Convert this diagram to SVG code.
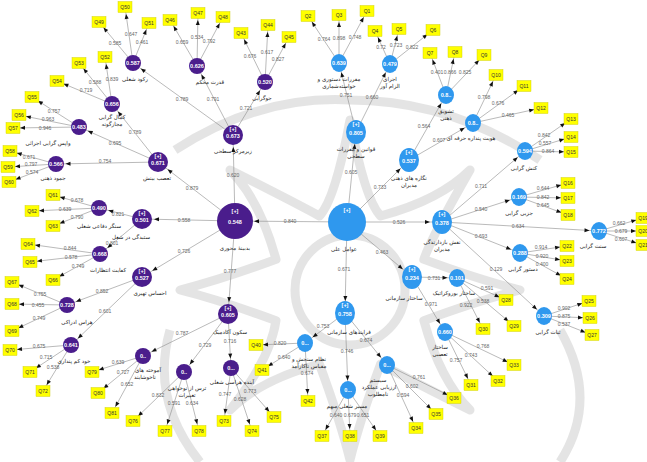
<svg xmlns="http://www.w3.org/2000/svg" width="647" height="462" viewBox="0 0 647 462">
<defs>
<style>
.bg{fill:none;stroke:#d9d9d9;stroke-width:9;stroke-linejoin:round;opacity:0.7}
.ln{stroke:#8c8c8c;stroke-width:0.6;fill:none}
.lq{marker-end:url(#mq)}
.l8{marker-end:url(#m8)}
.l10{marker-end:url(#m10)}
.l18{marker-end:url(#m18)}
.ld{font-family:"Liberation Sans",Arial,sans-serif;font-size:5px;fill:#666;text-anchor:middle}
.q rect{fill:#ffff00;stroke:#c9c900;stroke-width:0.4}
.q text{font-family:"Liberation Sans",Arial,sans-serif;font-size:5px;fill:#333;text-anchor:middle}
.pn{fill:#4a1d8c}
.bn{fill:#2f98ee}
.nv{font-family:"Liberation Sans",Arial,sans-serif;font-size:5.5px;font-weight:bold;fill:#fff;text-anchor:middle}
.lb{font-family:"DejaVu Sans",sans-serif;font-size:5.5px;fill:#222;text-anchor:middle}
</style>
<marker id="mq" markerUnits="userSpaceOnUse" markerWidth="30" markerHeight="4" refX="12" refY="2" orient="auto" overflow="visible"><path d="M0,0 L5,2 L0,4 z" fill="#111"/></marker>
<marker id="m8" markerUnits="userSpaceOnUse" markerWidth="30" markerHeight="4" refX="14.5" refY="2" orient="auto" overflow="visible"><path d="M0,0 L5,2 L0,4 z" fill="#111"/></marker>
<marker id="m10" markerUnits="userSpaceOnUse" markerWidth="30" markerHeight="4" refX="17" refY="2" orient="auto" overflow="visible"><path d="M0,0 L5,2 L0,4 z" fill="#111"/></marker>
<marker id="m18" markerUnits="userSpaceOnUse" markerWidth="30" markerHeight="4" refX="24" refY="2" orient="auto" overflow="visible"><path d="M0,0 L5,2 L0,4 z" fill="#111"/></marker>
</defs>
<rect width="647" height="462" fill="#fff"/>
<g id="background">
<path class="bg" d="M350,120 Q365,200 380.6,216 Q440,200 470,170 Q430,240 423.9,259.4 Q480,280 520,290 Q480,300 423.9,320.6 Q440,380 470,410 Q410,380 380.6,364 Q360,420 350,460 Q340,420 319.4,364 Q260,380 230,410 Q270,360 276,320.6 Q220,300 180,290 Q220,280 276,259.4 Q260,200 230,170 Q290,200 319.4,216 Q335,200 350,120 Z"/>
<circle class="bg" cx="350" cy="290" r="55"/>
<path class="bg" d="M175,150 Q260,95 350,100 Q450,100 540,160"/>
<path class="bg" d="M560,330 Q600,400 560,462"/>
<path class="bg" d="M170,330 Q150,400 200,462"/>
</g>
<g id="connectors">
<line class="ln l10" x1="235" y1="221" x2="233" y2="135"/>
<line class="ln l10" x1="235" y1="221" x2="158" y2="162"/>
<line class="ln l10" x1="235" y1="221" x2="142" y2="219"/>
<line class="ln l10" x1="235" y1="221" x2="142" y2="277"/>
<line class="ln l10" x1="235" y1="221" x2="228" y2="314"/>
<line class="ln l8" x1="233" y1="135" x2="133" y2="63"/>
<line class="ln l8" x1="233" y1="135" x2="197" y2="66"/>
<line class="ln l8" x1="233" y1="135" x2="265" y2="82"/>
<line class="ln l8" x1="158" y1="162" x2="112" y2="104"/>
<line class="ln l8" x1="158" y1="162" x2="79" y2="127"/>
<line class="ln l8" x1="158" y1="162" x2="56" y2="164"/>
<line class="ln l8" x1="142" y1="219" x2="99" y2="208"/>
<line class="ln l8" x1="142" y1="219" x2="100" y2="254"/>
<line class="ln l8" x1="142" y1="277" x2="67" y2="305"/>
<line class="ln l8" x1="142" y1="277" x2="71" y2="345"/>
<line class="ln l8" x1="228" y1="314" x2="143" y2="356"/>
<line class="ln l8" x1="228" y1="314" x2="184" y2="372"/>
<line class="ln l8" x1="228" y1="314" x2="231" y2="368"/>
<line class="ln l10" x1="347" y1="222" x2="356" y2="132"/>
<line class="ln l10" x1="347" y1="222" x2="409" y2="160"/>
<line class="ln l10" x1="347" y1="222" x2="442" y2="222"/>
<line class="ln l10" x1="347" y1="222" x2="412" y2="277"/>
<line class="ln l10" x1="347" y1="222" x2="345" y2="313"/>
<line class="ln l18" x1="347" y1="222" x2="235" y2="221"/>
<line class="ln l8" x1="356" y1="132" x2="339" y2="63"/>
<line class="ln l8" x1="356" y1="132" x2="390" y2="64"/>
<line class="ln l8" x1="409" y1="160" x2="446" y2="95"/>
<line class="ln l8" x1="409" y1="160" x2="473" y2="123"/>
<line class="ln l8" x1="442" y1="222" x2="525" y2="151"/>
<line class="ln l8" x1="442" y1="222" x2="519" y2="197"/>
<line class="ln l8" x1="442" y1="222" x2="599" y2="231"/>
<line class="ln l8" x1="442" y1="222" x2="520" y2="253"/>
<line class="ln l8" x1="442" y1="222" x2="544" y2="316"/>
<line class="ln l8" x1="412" y1="277" x2="457" y2="278"/>
<line class="ln l8" x1="412" y1="277" x2="445" y2="332"/>
<line class="ln l8" x1="345" y1="313" x2="305" y2="343"/>
<line class="ln l8" x1="345" y1="313" x2="387" y2="365"/>
<line class="ln l8" x1="345" y1="313" x2="348" y2="390"/>
<line class="ln lq" x1="133" y1="63" x2="99" y2="22"/>
<line class="ln lq" x1="133" y1="63" x2="125" y2="7"/>
<line class="ln lq" x1="133" y1="63" x2="149" y2="23"/>
<line class="ln lq" x1="197" y1="66" x2="170" y2="20"/>
<line class="ln lq" x1="197" y1="66" x2="198" y2="13"/>
<line class="ln lq" x1="197" y1="66" x2="223" y2="17"/>
<line class="ln lq" x1="265" y1="82" x2="241" y2="33"/>
<line class="ln lq" x1="265" y1="82" x2="268" y2="25"/>
<line class="ln lq" x1="265" y1="82" x2="289" y2="37"/>
<line class="ln lq" x1="112" y1="104" x2="105" y2="57"/>
<line class="ln lq" x1="112" y1="104" x2="79" y2="63"/>
<line class="ln lq" x1="112" y1="104" x2="57" y2="81"/>
<line class="ln lq" x1="79" y1="127" x2="32" y2="97"/>
<line class="ln lq" x1="79" y1="127" x2="19" y2="115"/>
<line class="ln lq" x1="79" y1="127" x2="13" y2="128"/>
<line class="ln lq" x1="56" y1="164" x2="10" y2="151"/>
<line class="ln lq" x1="56" y1="164" x2="8" y2="167"/>
<line class="ln lq" x1="56" y1="164" x2="9" y2="182"/>
<line class="ln lq" x1="99" y1="208" x2="53" y2="195"/>
<line class="ln lq" x1="99" y1="208" x2="32" y2="211"/>
<line class="ln lq" x1="99" y1="208" x2="53" y2="226"/>
<line class="ln lq" x1="100" y1="254" x2="28" y2="244"/>
<line class="ln lq" x1="100" y1="254" x2="30" y2="262"/>
<line class="ln lq" x1="100" y1="254" x2="53" y2="280"/>
<line class="ln lq" x1="67" y1="305" x2="12" y2="282"/>
<line class="ln lq" x1="67" y1="305" x2="12" y2="304"/>
<line class="ln lq" x1="67" y1="305" x2="12" y2="331"/>
<line class="ln lq" x1="71" y1="345" x2="10" y2="350"/>
<line class="ln lq" x1="71" y1="345" x2="30" y2="372"/>
<line class="ln lq" x1="71" y1="345" x2="43" y2="391"/>
<line class="ln lq" x1="143" y1="356" x2="92" y2="372"/>
<line class="ln lq" x1="143" y1="356" x2="98" y2="393"/>
<line class="ln lq" x1="143" y1="356" x2="112" y2="413"/>
<line class="ln lq" x1="184" y1="372" x2="133" y2="421"/>
<line class="ln lq" x1="184" y1="372" x2="165" y2="431"/>
<line class="ln lq" x1="184" y1="372" x2="199" y2="431"/>
<line class="ln lq" x1="231" y1="368" x2="224" y2="421"/>
<line class="ln lq" x1="231" y1="368" x2="252" y2="431"/>
<line class="ln lq" x1="231" y1="368" x2="274" y2="417"/>
<line class="ln lq" x1="339" y1="63" x2="308" y2="16"/>
<line class="ln lq" x1="339" y1="63" x2="339" y2="15"/>
<line class="ln lq" x1="339" y1="63" x2="367" y2="11"/>
<line class="ln lq" x1="390" y1="64" x2="375" y2="31"/>
<line class="ln lq" x1="390" y1="64" x2="399" y2="29"/>
<line class="ln lq" x1="390" y1="64" x2="433" y2="30"/>
<line class="ln lq" x1="446" y1="95" x2="430" y2="53"/>
<line class="ln lq" x1="446" y1="95" x2="455" y2="52"/>
<line class="ln lq" x1="446" y1="95" x2="484" y2="55"/>
<line class="ln lq" x1="473" y1="123" x2="496" y2="75"/>
<line class="ln lq" x1="473" y1="123" x2="524" y2="86"/>
<line class="ln lq" x1="473" y1="123" x2="541" y2="108"/>
<line class="ln lq" x1="525" y1="151" x2="571" y2="119"/>
<line class="ln lq" x1="525" y1="151" x2="571" y2="137"/>
<line class="ln lq" x1="525" y1="151" x2="571" y2="152"/>
<line class="ln lq" x1="519" y1="197" x2="568" y2="183"/>
<line class="ln lq" x1="519" y1="197" x2="568" y2="198"/>
<line class="ln lq" x1="519" y1="197" x2="568" y2="215"/>
<line class="ln lq" x1="599" y1="231" x2="643" y2="218"/>
<line class="ln lq" x1="599" y1="231" x2="643" y2="231"/>
<line class="ln lq" x1="599" y1="231" x2="643" y2="245"/>
<line class="ln lq" x1="520" y1="253" x2="567" y2="246"/>
<line class="ln lq" x1="520" y1="253" x2="567" y2="261"/>
<line class="ln lq" x1="520" y1="253" x2="567" y2="279"/>
<line class="ln lq" x1="544" y1="316" x2="589" y2="301"/>
<line class="ln lq" x1="544" y1="316" x2="590" y2="318"/>
<line class="ln lq" x1="544" y1="316" x2="592" y2="335"/>
<line class="ln lq" x1="457" y1="278" x2="506" y2="300"/>
<line class="ln lq" x1="457" y1="278" x2="514" y2="326"/>
<line class="ln lq" x1="457" y1="278" x2="483" y2="329"/>
<line class="ln lq" x1="445" y1="332" x2="471" y2="385"/>
<line class="ln lq" x1="445" y1="332" x2="498" y2="381"/>
<line class="ln lq" x1="445" y1="332" x2="514" y2="365"/>
<line class="ln lq" x1="305" y1="343" x2="256" y2="345"/>
<line class="ln lq" x1="305" y1="343" x2="262" y2="370"/>
<line class="ln lq" x1="305" y1="343" x2="308" y2="401"/>
<line class="ln lq" x1="387" y1="365" x2="416" y2="428"/>
<line class="ln lq" x1="387" y1="365" x2="436" y2="414"/>
<line class="ln lq" x1="387" y1="365" x2="454" y2="398"/>
<line class="ln lq" x1="348" y1="390" x2="322" y2="436"/>
<line class="ln lq" x1="348" y1="390" x2="350" y2="436"/>
<line class="ln lq" x1="348" y1="390" x2="380" y2="436"/>
<g class="ld">
<text x="233" y="177">0.620</text><text x="192" y="190">0.879</text><text x="184" y="222">0.558</text><text x="184" y="253">0.726</text><text x="230" y="273">0.777</text>
<text x="182" y="101">0.789</text><text x="213" y="101">0.791</text><text x="246" y="110">0.721</text>
<text x="135" y="134">0.789</text><text x="115" y="145">0.695</text><text x="105" y="163">0.754</text>
<text x="118" y="216">0.821</text><text x="112" y="245">0.801</text>
<text x="102" y="293">0.852</text><text x="105" y="313">0.601</text>
<text x="182" y="335">0.787</text><text x="205" y="347">0.729</text><text x="230" y="343">0.716</text>
<text x="115" y="45">0.585</text><text x="131" y="36">0.647</text><text x="142" y="44">0.461</text>
<text x="182" y="44">0.659</text><text x="197" y="39">0.534</text><text x="209" y="43">0.792</text>
<text x="250" y="58">0.676</text><text x="267" y="54">0.617</text><text x="278" y="61">0.827</text>
<text x="95" y="84">0.588</text><text x="112" y="81">0.839</text><text x="86" y="92">0.719</text>
<text x="54" y="113">0.757</text><text x="48" y="121">0.963</text><text x="45" y="130">0.946</text>
<text x="29" y="159">0.671</text><text x="31" y="166">0.797</text><text x="32" y="174">0.574</text>
<text x="77" y="202">0.678</text><text x="65" y="211">0.639</text><text x="77" y="219">0.790</text>
<text x="70" y="250">0.844</text><text x="71" y="259">0.578</text><text x="78" y="268">0.749</text>
<text x="40" y="296">0.755</text><text x="38" y="307">0.455</text><text x="39" y="320">0.749</text>
<text x="39" y="348">0.675</text><text x="46" y="359">0.715</text><text x="53" y="369">0.538</text>
<text x="118" y="364">0.639</text><text x="123" y="374">0.727</text><text x="127" y="386">0.652</text>
<text x="158" y="397">0.832</text><text x="174" y="405">0.591</text><text x="192" y="405">0.634</text>
<text x="225" y="396">0.747</text><text x="240" y="401">0.628</text><text x="250" y="393">0.773</text>
<text x="351" y="174">0.605</text><text x="380" y="189">0.733</text><text x="399" y="224">0.526</text><text x="382" y="254">0.463</text><text x="344" y="271">0.671</text><text x="290" y="223">0.840</text>
<text x="346" y="97">0.751</text><text x="372" y="99">0.660</text>
<text x="424" y="128">0.564</text><text x="439" y="142">0.607</text>
<text x="481" y="188">0.711</text><text x="481" y="211">0.540</text><text x="518" y="228">0.634</text><text x="481" y="238">0.693</text><text x="496" y="271">0.129</text>
<text x="434" y="280">0.731</text><text x="431" y="306">0.971</text>
<text x="323" y="328">0.753</text><text x="366" y="342">0.674</text><text x="347" y="353">0.746</text>
<text x="324" y="41">0.764</text><text x="339" y="40">0.898</text><text x="355" y="39">0.748</text>
<text x="381" y="49">0.72</text><text x="396" y="47">0.723</text><text x="412" y="49">0.822</text>
<text x="437" y="74">0.401</text><text x="450" y="74">0.866</text><text x="465" y="74">0.825</text>
<text x="484" y="99">0.798</text><text x="498" y="105">0.676</text><text x="508" y="117">0.465</text>
<text x="544" y="137">0.842</text><text x="545" y="145">0.557</text><text x="548" y="153">0.864</text>
<text x="543" y="190">0.644</text><text x="543" y="199">0.842</text><text x="543" y="207">0.645</text>
<text x="619" y="225">0.662</text><text x="621" y="233">0.679</text><text x="621" y="241">0.607</text>
<text x="541" y="249">0.914</text><text x="542" y="258">0.920</text><text x="542" y="266">0.400</text>
<text x="564" y="310">0.902</text><text x="564" y="318">0.875</text><text x="564" y="326">0.537</text>
<text x="487" y="290">0.591</text><text x="483" y="303">0.538</text><text x="466" y="307">0.922</text>
<text x="456" y="362">0.757</text><text x="471" y="357">0.743</text><text x="483" y="348">0.768</text>
<text x="280" y="345">0.820</text><text x="284" y="359">0.640</text><text x="307" y="375">0.674</text>
<text x="419" y="379">0.761</text><text x="412" y="388">0.602</text><text x="403" y="397">0.594</text>
<text x="336" y="417">0.640</text><text x="350" y="417">0.679</text><text x="363" y="417">0.651</text>
</g>
</g>
<g id="n-central-purple"><circle class="pn" cx="235" cy="221" r="18"/><text class="nv" x="235" y="213">[+]</text><text class="nv" x="235" y="224">0.548</text><text class="lb" x="235" y="250">بدبینۀ محوری</text></g>
<g id="n-p1"><circle class="pn" cx="233" cy="135" r="10"/><text class="nv" x="233" y="131" font-size="4">[+]</text><text class="nv" x="233" y="138">0.673</text><text class="lb" x="233" y="153">زیرمرکز سطحی</text></g>
<g id="n-p2"><circle class="pn" cx="158" cy="162" r="10"/><text class="nv" x="158" y="158" font-size="4">[+]</text><text class="nv" x="158" y="165">0.671</text><text class="lb" x="157" y="180">تعصب بینش</text></g>
<g id="n-p3"><circle class="pn" cx="142" cy="219" r="10"/><text class="nv" x="142" y="215" font-size="4">[+]</text><text class="nv" x="142" y="222">0.501</text><text class="lb" x="131" y="239">ستبدگی در شغل</text></g>
<g id="n-p4"><circle class="pn" cx="142" cy="277" r="10"/><text class="nv" x="142" y="273" font-size="4">[+]</text><text class="nv" x="142" y="280">0.527</text><text class="lb" x="150" y="295">احساس تهیری</text></g>
<g id="n-p5"><circle class="pn" cx="228" cy="314" r="10"/><text class="nv" x="228" y="310" font-size="4">[+]</text><text class="nv" x="228" y="317">0.605</text><text class="lb" x="230" y="334">سکون آکادمیک</text></g>
<g id="n-rokud"><circle class="pn" cx="133" cy="63" r="8"/><text class="nv" x="133" y="65">0.587</text><text class="lb" x="135" y="81">رکود شغلی</text></g>
<g id="n-ghodrat"><circle class="pn" cx="197" cy="66" r="8"/><text class="nv" x="197" y="68">0.626</text><text class="lb" x="210" y="84">قدرت محکم</text></g>
<g id="n-jogaraei"><circle class="pn" cx="265" cy="82" r="8"/><text class="nv" x="265" y="84">0.520</text><text class="lb" x="262" y="100">جوگرایی</text></g>
<g id="n-kamal"><circle class="pn" cx="112" cy="104" r="8"/><text class="nv" x="112" y="106">0.656</text><text class="lb" x="112" y="119">کمال گرایی</text><text class="lb" x="112" y="126">مجازگونه</text></g>
<g id="n-vapas"><circle class="pn" cx="79" cy="127" r="8"/><text class="nv" x="79" y="129">0.483</text><text class="lb" x="48" y="145">واپس گرایی اجرائی</text></g>
<g id="n-jomud"><circle class="pn" cx="56" cy="164" r="8"/><text class="nv" x="56" y="166">0.566</text><text class="lb" x="53" y="180">جمود ذهنی</text></g>
<g id="n-sangar"><circle class="pn" cx="99" cy="208" r="8"/><text class="nv" x="99" y="210">0.490</text><text class="lb" x="99" y="228">سنگر دفاعی شغلی</text></g>
<g id="n-kefayat"><circle class="pn" cx="100" cy="254" r="8"/><text class="nv" x="100" y="256">0.668</text><text class="lb" x="108" y="272">کفایت انتظارات</text></g>
<g id="n-haras"><circle class="pn" cx="67" cy="305" r="8"/><text class="nv" x="67" y="307">0.728</text><text class="lb" x="77" y="324">هراس ادراکی</text></g>
<g id="n-khod"><circle class="pn" cx="71" cy="345" r="8"/><text class="nv" x="71" y="347">0.641</text><text class="lb" x="74" y="363">خود کم پنداری</text></g>
<g id="n-amukhte"><circle class="pn" cx="143" cy="356" r="8"/><text class="nv" x="143" y="358">0..</text><text class="lb" x="148" y="372">آموخته های</text><text class="lb" x="145" y="379">ناخوشایند</text></g>
<g id="n-tars"><circle class="pn" cx="184" cy="372" r="8"/><text class="nv" x="184" y="374">0..</text><text class="lb" x="187" y="390">ترس از نوخواهی</text><text class="lb" x="187" y="397">تغییرات</text></g>
<g id="n-ayande"><circle class="pn" cx="231" cy="368" r="8"/><text class="nv" x="231" y="370">0...</text><text class="lb" x="232" y="384">آینده هراسی شغلی</text></g>
<g id="n-central-blue"><circle class="bn" cx="347" cy="222" r="19"/><text class="nv" x="347" y="212">[+]</text><text class="lb" x="344" y="251">عوامل علی</text></g>
<g id="n-b1"><ellipse class="bn" cx="356" cy="132" rx="10" ry="12"/><text class="nv" x="356" y="126" font-size="4">[+]</text><text class="nv" x="356" y="135">0.805</text><text class="lb" x="356" y="151">قوانین و مقررات</text><text class="lb" x="356" y="158">سطحی</text></g>
<g id="n-b2"><ellipse class="bn" cx="409" cy="160" rx="10" ry="12"/><text class="nv" x="409" y="154" font-size="4">[+]</text><text class="nv" x="409" y="163">0.537</text><text class="lb" x="409" y="180">نگاره های ذهنی</text><text class="lb" x="409" y="187">مدیران</text></g>
<g id="n-b3"><ellipse class="bn" cx="442" cy="222" rx="10" ry="12"/><text class="nv" x="442" y="216" font-size="4">[+]</text><text class="nv" x="442" y="225">0.378</text><text class="lb" x="442" y="244">نقش بازدارندگی</text><text class="lb" x="442" y="251">مدیران</text></g>
<g id="n-b4"><ellipse class="bn" cx="412" cy="277" rx="10" ry="12"/><text class="nv" x="412" y="271" font-size="4">[+]</text><text class="nv" x="412" y="280">0.234</text><text class="lb" x="404" y="300">ساختار سازمانی</text></g>
<g id="n-b5"><ellipse class="bn" cx="345" cy="313" rx="10" ry="12"/><text class="nv" x="345" y="307" font-size="4">[+]</text><text class="nv" x="345" y="316">0.758</text><text class="lb" x="349" y="334">فرایندهای سازمانی</text></g>
<g id="n-moghararat"><ellipse class="bn" cx="339" cy="63" rx="8" ry="9"/><text class="nv" x="339" y="65">0.639</text><text class="lb" x="339" y="81">مقررات دستوری و</text><text class="lb" x="339" y="88">خواسته‌شماری</text></g>
<g id="n-ejra"><ellipse class="bn" cx="390" cy="64" rx="8" ry="9"/><text class="nv" x="390" y="66">0.479</text><text class="lb" x="390" y="81">اجرای</text><text class="lb" x="390" y="88">الزام آور</text></g>
<g id="n-tashvigh"><ellipse class="bn" cx="446" cy="95" rx="8" ry="9"/><text class="nv" x="446" y="97">0.8..</text><text class="lb" x="446" y="113">تشویق</text><text class="lb" x="446" y="120">ذهنی</text></g>
<g id="n-hoviat"><ellipse class="bn" cx="473" cy="123" rx="8" ry="9"/><text class="nv" x="473" y="125">0.8..</text><text class="lb" x="471" y="140">هویت پنداره حرفه ای</text></g>
<g id="n-konesh"><ellipse class="bn" cx="525" cy="151" rx="8" ry="9"/><text class="nv" x="525" y="153">0.594</text><text class="lb" x="524" y="170">کنش گرایی</text></g>
<g id="n-jozei"><ellipse class="bn" cx="519" cy="197" rx="8" ry="9"/><text class="nv" x="519" y="199">0.169</text><text class="lb" x="519" y="215">جزیی گرایی</text></g>
<g id="n-sonnat"><ellipse class="bn" cx="599" cy="231" rx="8" ry="9"/><text class="nv" x="599" y="233">0.772</text><text class="lb" x="593" y="248">سنت گرایی</text></g>
<g id="n-dastur"><ellipse class="bn" cx="520" cy="253" rx="8" ry="9"/><text class="nv" x="520" y="255">0.288</text><text class="lb" x="523" y="271">دستور گرایی</text></g>
<g id="n-sabat"><ellipse class="bn" cx="544" cy="316" rx="8" ry="9"/><text class="nv" x="544" y="318">0.309</text><text class="lb" x="548" y="334">ثبات گرایی</text></g>
<g id="n-bourocratic"><ellipse class="bn" cx="457" cy="278" rx="8" ry="9"/><text class="nv" x="457" y="280">0.101</text><text class="lb" x="454" y="295">ساختار بوروکراتیک</text></g>
<g id="n-taassobi"><ellipse class="bn" cx="445" cy="332" rx="8" ry="9"/><text class="nv" x="445" y="334">0.660</text><text class="lb" x="440" y="349">ساختار</text><text class="lb" x="440" y="356">تعصبی</text></g>
<g id="n-nezam"><ellipse class="bn" cx="305" cy="343" rx="8" ry="9"/><text class="nv" x="305" y="345">0...</text><text class="lb" x="309" y="361">نظام سنجش و</text><text class="lb" x="309" y="368">مقیاس ناکارآمد</text></g>
<g id="n-system"><ellipse class="bn" cx="387" cy="365" rx="8" ry="9"/><text class="nv" x="387" y="367">0...</text><text class="lb" x="378" y="382">سیستم</text><text class="lb" x="379" y="389">ارزیابی عملکرد</text><text class="lb" x="378" y="396">نامطلوب</text></g>
<g id="n-masir"><ellipse class="bn" cx="348" cy="390" rx="8" ry="9"/><text class="nv" x="348" y="392">0...</text><text class="lb" x="347" y="408">مسیر شغلی مبهم</text></g>
<g class="q">
<g id="Q1" transform="translate(367,11)"><rect x="-7" y="-5.5" width="14" height="11"/><text y="1.8">Q1</text></g>
<g id="Q2" transform="translate(308,16)"><rect x="-7" y="-5.5" width="14" height="11"/><text y="1.8">Q2</text></g>
<g id="Q3" transform="translate(339,15)"><rect x="-7" y="-5.5" width="14" height="11"/><text y="1.8">Q3</text></g>
<g id="Q4" transform="translate(375,31)"><rect x="-7" y="-5.5" width="14" height="11"/><text y="1.8">Q4</text></g>
<g id="Q5" transform="translate(399,29)"><rect x="-7" y="-5.5" width="14" height="11"/><text y="1.8">Q5</text></g>
<g id="Q6" transform="translate(433,30)"><rect x="-7" y="-5.5" width="14" height="11"/><text y="1.8">Q6</text></g>
<g id="Q7" transform="translate(430,53)"><rect x="-7" y="-5.5" width="14" height="11"/><text y="1.8">Q7</text></g>
<g id="Q8" transform="translate(455,52)"><rect x="-7" y="-5.5" width="14" height="11"/><text y="1.8">Q8</text></g>
<g id="Q9" transform="translate(484,55)"><rect x="-7" y="-5.5" width="14" height="11"/><text y="1.8">Q9</text></g>
<g id="Q10" transform="translate(496,75)"><rect x="-7" y="-5.5" width="14" height="11"/><text y="1.8">Q10</text></g>
<g id="Q11" transform="translate(524,86)"><rect x="-7" y="-5.5" width="14" height="11"/><text y="1.8">Q11</text></g>
<g id="Q12" transform="translate(541,108)"><rect x="-7" y="-5.5" width="14" height="11"/><text y="1.8">Q12</text></g>
<g id="Q13" transform="translate(571,119)"><rect x="-7" y="-5.5" width="14" height="11"/><text y="1.8">Q13</text></g>
<g id="Q14" transform="translate(571,137)"><rect x="-7" y="-5.5" width="14" height="11"/><text y="1.8">Q14</text></g>
<g id="Q15" transform="translate(571,152)"><rect x="-7" y="-5.5" width="14" height="11"/><text y="1.8">Q15</text></g>
<g id="Q16" transform="translate(568,183)"><rect x="-7" y="-5.5" width="14" height="11"/><text y="1.8">Q16</text></g>
<g id="Q17" transform="translate(568,198)"><rect x="-7" y="-5.5" width="14" height="11"/><text y="1.8">Q17</text></g>
<g id="Q18" transform="translate(568,215)"><rect x="-7" y="-5.5" width="14" height="11"/><text y="1.8">Q18</text></g>
<g id="Q19" transform="translate(643,218)"><rect x="-7" y="-5.5" width="14" height="11"/><text y="1.8">Q19</text></g>
<g id="Q20" transform="translate(643,231)"><rect x="-7" y="-5.5" width="14" height="11"/><text y="1.8">Q20</text></g>
<g id="Q21" transform="translate(643,245)"><rect x="-7" y="-5.5" width="14" height="11"/><text y="1.8">Q21</text></g>
<g id="Q22" transform="translate(567,246)"><rect x="-7" y="-5.5" width="14" height="11"/><text y="1.8">Q22</text></g>
<g id="Q23" transform="translate(567,261)"><rect x="-7" y="-5.5" width="14" height="11"/><text y="1.8">Q23</text></g>
<g id="Q24" transform="translate(567,279)"><rect x="-7" y="-5.5" width="14" height="11"/><text y="1.8">Q24</text></g>
<g id="Q25" transform="translate(589,301)"><rect x="-7" y="-5.5" width="14" height="11"/><text y="1.8">Q25</text></g>
<g id="Q26" transform="translate(590,318)"><rect x="-7" y="-5.5" width="14" height="11"/><text y="1.8">Q26</text></g>
<g id="Q27" transform="translate(592,335)"><rect x="-7" y="-5.5" width="14" height="11"/><text y="1.8">Q27</text></g>
<g id="Q28" transform="translate(506,300)"><rect x="-7" y="-5.5" width="14" height="11"/><text y="1.8">Q28</text></g>
<g id="Q29" transform="translate(514,326)"><rect x="-7" y="-5.5" width="14" height="11"/><text y="1.8">Q29</text></g>
<g id="Q30" transform="translate(483,329)"><rect x="-7" y="-5.5" width="14" height="11"/><text y="1.8">Q30</text></g>
<g id="Q31" transform="translate(471,385)"><rect x="-7" y="-5.5" width="14" height="11"/><text y="1.8">Q31</text></g>
<g id="Q32" transform="translate(498,381)"><rect x="-7" y="-5.5" width="14" height="11"/><text y="1.8">Q32</text></g>
<g id="Q33" transform="translate(514,365)"><rect x="-7" y="-5.5" width="14" height="11"/><text y="1.8">Q33</text></g>
<g id="Q34" transform="translate(416,428)"><rect x="-7" y="-5.5" width="14" height="11"/><text y="1.8">Q34</text></g>
<g id="Q35" transform="translate(436,414)"><rect x="-7" y="-5.5" width="14" height="11"/><text y="1.8">Q35</text></g>
<g id="Q36" transform="translate(454,398)"><rect x="-7" y="-5.5" width="14" height="11"/><text y="1.8">Q36</text></g>
<g id="Q37" transform="translate(322,436)"><rect x="-7" y="-5.5" width="14" height="11"/><text y="1.8">Q37</text></g>
<g id="Q38" transform="translate(350,436)"><rect x="-7" y="-5.5" width="14" height="11"/><text y="1.8">Q38</text></g>
<g id="Q39" transform="translate(380,436)"><rect x="-7" y="-5.5" width="14" height="11"/><text y="1.8">Q39</text></g>
<g id="Q40" transform="translate(256,345)"><rect x="-7" y="-5.5" width="14" height="11"/><text y="1.8">Q40</text></g>
<g id="Q41" transform="translate(262,370)"><rect x="-7" y="-5.5" width="14" height="11"/><text y="1.8">Q41</text></g>
<g id="Q42" transform="translate(308,401)"><rect x="-7" y="-5.5" width="14" height="11"/><text y="1.8">Q42</text></g>
<g id="Q43" transform="translate(241,33)"><rect x="-7" y="-5.5" width="14" height="11"/><text y="1.8">Q43</text></g>
<g id="Q44" transform="translate(268,25)"><rect x="-7" y="-5.5" width="14" height="11"/><text y="1.8">Q44</text></g>
<g id="Q45" transform="translate(289,37)"><rect x="-7" y="-5.5" width="14" height="11"/><text y="1.8">Q45</text></g>
<g id="Q46" transform="translate(170,20)"><rect x="-7" y="-5.5" width="14" height="11"/><text y="1.8">Q46</text></g>
<g id="Q47" transform="translate(198,13)"><rect x="-7" y="-5.5" width="14" height="11"/><text y="1.8">Q47</text></g>
<g id="Q48" transform="translate(223,17)"><rect x="-7" y="-5.5" width="14" height="11"/><text y="1.8">Q48</text></g>
<g id="Q49" transform="translate(99,22)"><rect x="-7" y="-5.5" width="14" height="11"/><text y="1.8">Q49</text></g>
<g id="Q50" transform="translate(125,7)"><rect x="-7" y="-5.5" width="14" height="11"/><text y="1.8">Q50</text></g>
<g id="Q51" transform="translate(149,23)"><rect x="-7" y="-5.5" width="14" height="11"/><text y="1.8">Q51</text></g>
<g id="Q52" transform="translate(105,57)"><rect x="-7" y="-5.5" width="14" height="11"/><text y="1.8">Q52</text></g>
<g id="Q53" transform="translate(79,63)"><rect x="-7" y="-5.5" width="14" height="11"/><text y="1.8">Q53</text></g>
<g id="Q54" transform="translate(57,81)"><rect x="-7" y="-5.5" width="14" height="11"/><text y="1.8">Q54</text></g>
<g id="Q55" transform="translate(32,97)"><rect x="-7" y="-5.5" width="14" height="11"/><text y="1.8">Q55</text></g>
<g id="Q56" transform="translate(19,115)"><rect x="-7" y="-5.5" width="14" height="11"/><text y="1.8">Q56</text></g>
<g id="Q57" transform="translate(13,128)"><rect x="-7" y="-5.5" width="14" height="11"/><text y="1.8">Q57</text></g>
<g id="Q58" transform="translate(10,151)"><rect x="-7" y="-5.5" width="14" height="11"/><text y="1.8">Q58</text></g>
<g id="Q59" transform="translate(8,167)"><rect x="-7" y="-5.5" width="14" height="11"/><text y="1.8">Q59</text></g>
<g id="Q60" transform="translate(9,182)"><rect x="-7" y="-5.5" width="14" height="11"/><text y="1.8">Q60</text></g>
<g id="Q61" transform="translate(53,195)"><rect x="-7" y="-5.5" width="14" height="11"/><text y="1.8">Q61</text></g>
<g id="Q62" transform="translate(32,211)"><rect x="-7" y="-5.5" width="14" height="11"/><text y="1.8">Q62</text></g>
<g id="Q63" transform="translate(53,226)"><rect x="-7" y="-5.5" width="14" height="11"/><text y="1.8">Q63</text></g>
<g id="Q64" transform="translate(28,244)"><rect x="-7" y="-5.5" width="14" height="11"/><text y="1.8">Q64</text></g>
<g id="Q65" transform="translate(30,262)"><rect x="-7" y="-5.5" width="14" height="11"/><text y="1.8">Q65</text></g>
<g id="Q66" transform="translate(53,280)"><rect x="-7" y="-5.5" width="14" height="11"/><text y="1.8">Q66</text></g>
<g id="Q67" transform="translate(12,282)"><rect x="-7" y="-5.5" width="14" height="11"/><text y="1.8">Q67</text></g>
<g id="Q68" transform="translate(12,304)"><rect x="-7" y="-5.5" width="14" height="11"/><text y="1.8">Q68</text></g>
<g id="Q69" transform="translate(12,331)"><rect x="-7" y="-5.5" width="14" height="11"/><text y="1.8">Q69</text></g>
<g id="Q70" transform="translate(10,350)"><rect x="-7" y="-5.5" width="14" height="11"/><text y="1.8">Q70</text></g>
<g id="Q71" transform="translate(30,372)"><rect x="-7" y="-5.5" width="14" height="11"/><text y="1.8">Q71</text></g>
<g id="Q72" transform="translate(43,391)"><rect x="-7" y="-5.5" width="14" height="11"/><text y="1.8">Q72</text></g>
<g id="Q73" transform="translate(224,421)"><rect x="-7" y="-5.5" width="14" height="11"/><text y="1.8">Q73</text></g>
<g id="Q74" transform="translate(252,431)"><rect x="-7" y="-5.5" width="14" height="11"/><text y="1.8">Q74</text></g>
<g id="Q75" transform="translate(274,417)"><rect x="-7" y="-5.5" width="14" height="11"/><text y="1.8">Q75</text></g>
<g id="Q76" transform="translate(133,421)"><rect x="-7" y="-5.5" width="14" height="11"/><text y="1.8">Q76</text></g>
<g id="Q77" transform="translate(165,431)"><rect x="-7" y="-5.5" width="14" height="11"/><text y="1.8">Q77</text></g>
<g id="Q78" transform="translate(199,431)"><rect x="-7" y="-5.5" width="14" height="11"/><text y="1.8">Q78</text></g>
<g id="Q79" transform="translate(92,372)"><rect x="-7" y="-5.5" width="14" height="11"/><text y="1.8">Q79</text></g>
<g id="Q80" transform="translate(98,393)"><rect x="-7" y="-5.5" width="14" height="11"/><text y="1.8">Q80</text></g>
<g id="Q81" transform="translate(112,413)"><rect x="-7" y="-5.5" width="14" height="11"/><text y="1.8">Q81</text></g>
</g>
</svg>
